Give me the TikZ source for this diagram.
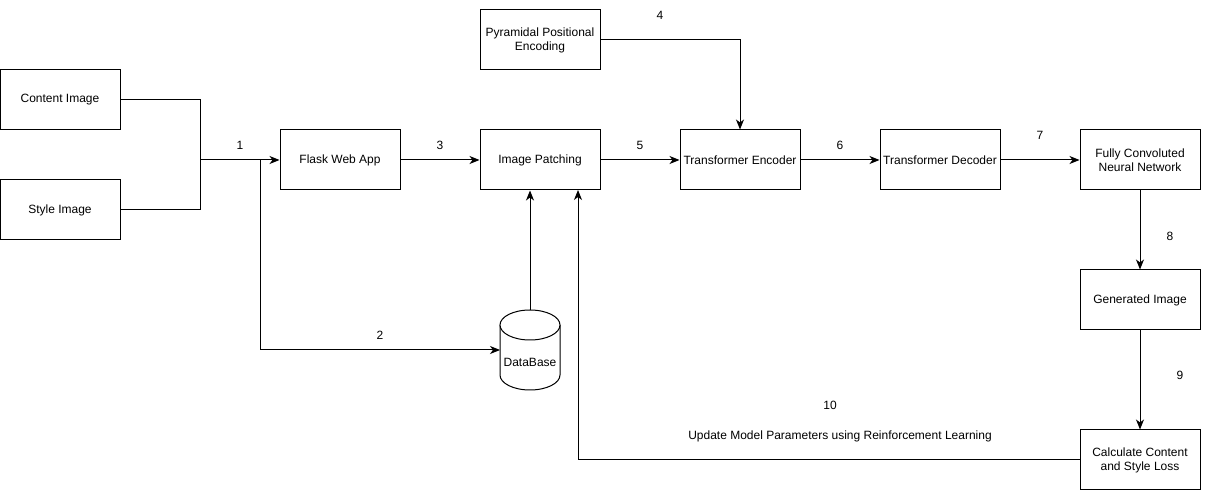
\documentclass[tikz,border=0pt]{standalone}
\usepackage{fontspec}
\setmainfont{Liberation Sans}
\usetikzlibrary{arrows.meta}

\tikzset{every picture/.style={line width=0.75pt}}
\tikzset{
  box/.style={draw, fill=white, minimum width=90pt, minimum height=45pt, align=center, inner sep=0.75pt, font=\fontsize{9pt}{10.5pt}\selectfont},
  txt/.style={inner sep=0.75pt, font=\fontsize{9pt}{10.5pt}\selectfont},
  arr/.style={-{Stealth[length=7.5pt,width=6pt,inset=2.2pt]}}
}

\begin{document}
\begin{tikzpicture}[x=0.75pt,y=0.75pt,yscale=-1,xscale=1]
\useasboundingbox (0,0) rectangle (1211,491);

%Shape: Rectangle [id:ci]
\node [box] (ci) at (60,100) {Content Image};
%Shape: Rectangle [id:si]
\node [box] (si) at (60,210) {Style Image};
%Shape: Rectangle [id:flask]
\node [box] (flask) at (340,160) {Flask Web App};
%Shape: Rectangle [id:ppe]
\node [box] (ppe) at (540,40) {Pyramidal Positional\\Encoding};
%Shape: Rectangle [id:ip]
\node [box] (ip) at (540,160) {Image Patching};
%Shape: Rectangle [id:enc]
\node [box] (enc) at (740,160) {Transformer Encoder};
%Shape: Rectangle [id:dec]
\node [box] (dec) at (940,160) {Transformer Decoder};
%Shape: Rectangle [id:fcnn]
\node [box] (fcnn) at (1140,160) {Fully Convoluted\\Neural Network};
%Shape: Rectangle [id:gen]
\node [box] (gen) at (1140,300) {Generated Image};
%Shape: Rectangle [id:loss]
\node [box] (loss) at (1140,460) {Calculate Content\\and Style Loss};

%Shape: Can [id:db]
\draw [fill=white] (500,325) -- (500,375) arc (180:0:30 and 15) -- (560,325) ;
\draw [fill=white] (530,325) ellipse (30 and 15) ;
\node [txt] (db) at (530,362) {DataBase};
\coordinate (dbtop) at (530,310);
\coordinate (dbw) at (500,350);

%Straight Lines [id:joins]
\coordinate (jn) at (200,160);
\coordinate (br) at (260,160);
\coordinate (fb) at (578,190);
\draw (ci.east) -| (jn) ;
\draw (si.east) -| (jn) ;
\draw [arr] (jn) -- (flask.west) ;
\draw [arr] (br) |- (dbw) ;
\draw [arr] (flask.east) -- (ip.west) ;
\draw [arr] (ppe.east) -| (enc.north) ;
\draw [arr] (ip.east) -- (enc.west) ;
\draw [arr] (enc.east) -- (dec.west) ;
\draw [arr] (dec.east) -- (fcnn.west) ;
\draw [arr] (fcnn.south) -- (gen.north) ;
\draw [arr] (gen.south) -- (loss.north) ;
\draw [arr] (dbtop) -- (dbtop |- ip.south) ;
\draw [arr] (loss.west) -| (fb) ;

% Text Node
\node [txt] (n1) at (240,145) {1};
% Text Node
\node [txt] (n2) at (380,335) {2};
% Text Node
\node [txt] (n3) at (440,145) {3};
% Text Node
\node [txt] (n4) at (660,15) {4};
% Text Node
\node [txt] (n5) at (640,145) {5};
% Text Node
\node [txt] (n6) at (840,145) {6};
% Text Node
\node [txt] (n7) at (1040,135) {7};
% Text Node
\node [txt] (n8) at (1170,236) {8};
% Text Node
\node [txt] (n9) at (1180,375) {9};
% Text Node
\node [txt] (n10) at (830,405) {10};
% Text Node
\node [txt] (upd) at (840,436) {Update Model Parameters using Reinforcement Learning};

\end{tikzpicture}
\end{document}
